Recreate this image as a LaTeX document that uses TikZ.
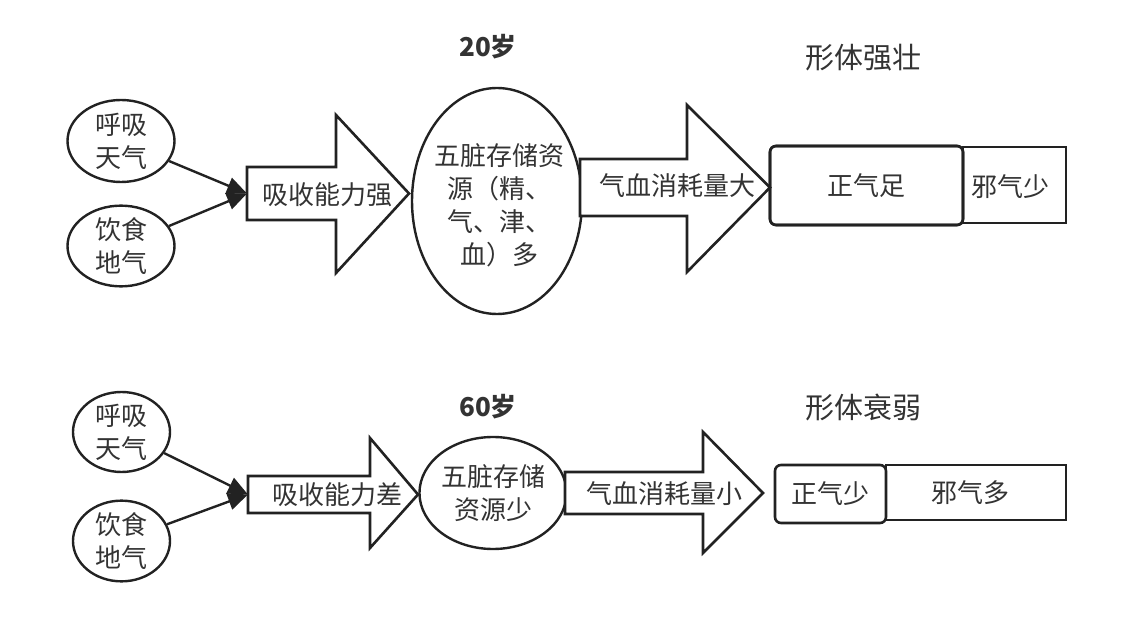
\documentclass[tikz,border=0pt]{standalone}
\usepackage{fontspec}
\setmainfont{Noto Sans CJK SC}
\usetikzlibrary{shapes.geometric,arrows.meta}
\definecolor{ink}{HTML}{222222}
\definecolor{txt}{HTML}{333333}
\tikzset{
  every node/.style={text=txt, font=\fontsize{26}{33}\selectfont},
  oval/.style={draw=ink, line width=2.4pt, ellipse, inner sep=0pt, align=center},
  bigarrow/.style={draw=ink, line width=2.6pt, line join=miter, fill=white},
  rbox/.style={draw=ink, line width=2.6pt, rounded corners=6pt},
  sbox/.style={draw=ink, line width=2.6pt},
  feed/.style={draw=ink, line width=2.4pt, -{Triangle[length=20pt,width=17pt]}},
  title/.style={font=\fontsize{29}{32}\selectfont},
  btitle/.style={font=\fontsize{26}{30}\selectfont\bfseries}
}
\begin{document}
\begin{tikzpicture}[x=1pt,y=-1pt]
\useasboundingbox (0,0) rectangle (1128,631);
% ---------- top row ----------
\node[btitle] (t20) at (488,47) {20岁};
\node[title] (tq) at (863,58) {形体强壮};

\node[oval, minimum width=107pt, minimum height=82pt] (e1) at (121,141) {呼吸\\天气};
\node[oval, minimum width=107pt, minimum height=78pt] (e2) at (121,246) {饮食\\地气};

\draw[bigarrow] (247,167) -- (336,167) -- (336,115) -- (409,193.5) -- (336,273) -- (336,220) -- (247,220) -- cycle;
\coordinate (a1tail) at (247,193.5);
\node (a1) at (327,195) {吸收能力强};
\draw[feed] (e1) -- (a1tail);
\draw[feed] (e2) -- (a1tail);

\node[oval, minimum width=170pt, minimum height=226pt] (z1) at (497,201) {};
\node[align=center] (z1t) at (499,205) {五脏存储资\\源（精、\\气、津、\\血）多};

\draw[bigarrow] (580,159) -- (687,159) -- (687,105) -- (770,187.5) -- (687,272) -- (687,216) -- (580,216) -- cycle;
\node (a2) at (677,186) {气血消耗量大};

\node[rbox, minimum width=193pt, minimum height=79pt] (zq1) at (866.5,185.5) {正气足};
\node[sbox, minimum width=103pt, minimum height=76pt] (xq1) at (1014.5,185) {};
\node (xq1t) at (1010,187) {邪气少};
\node[rbox, minimum width=193pt, minimum height=79pt] at (866.5,185.5) {};

% ---------- bottom row ----------
\node[btitle] (t60) at (488,407) {60岁};
\node[title] (ts) at (863,407) {形体衰弱};

\node[oval, minimum width=97pt, minimum height=80pt] (e3) at (121.5,432) {呼吸\\天气};
\node[oval, minimum width=97pt, minimum height=77pt] (e4) at (121.5,541) {饮食\\地气};

\draw[bigarrow] (248,476) -- (370,476) -- (370,438) -- (418,494.5) -- (370,548) -- (370,513) -- (248,513) -- cycle;
\coordinate (a3tail) at (248,494.5);
\node (a3) at (337,495) {吸收能力差};
\draw[feed] (e3) -- (a3tail);
\draw[feed] (e4) -- (a3tail);

\node[oval, minimum width=140pt, minimum height=112pt] (z2) at (493,493) {五脏存储\\资源少};

\draw[bigarrow] (565,472) -- (703,472) -- (703,432) -- (763,493) -- (703,553) -- (703,514) -- (565,514) -- cycle;
\node (a4) at (664,494) {气血消耗量小};

\node[sbox, minimum width=180pt, minimum height=55pt] (xq2) at (976,492.5) {};
\node (xq2t) at (970,493) {邪气多};
\node[rbox, fill=white, minimum width=111pt, minimum height=58pt] (zq2) at (830.5,494) {正气少};
\end{tikzpicture}
\end{document}
